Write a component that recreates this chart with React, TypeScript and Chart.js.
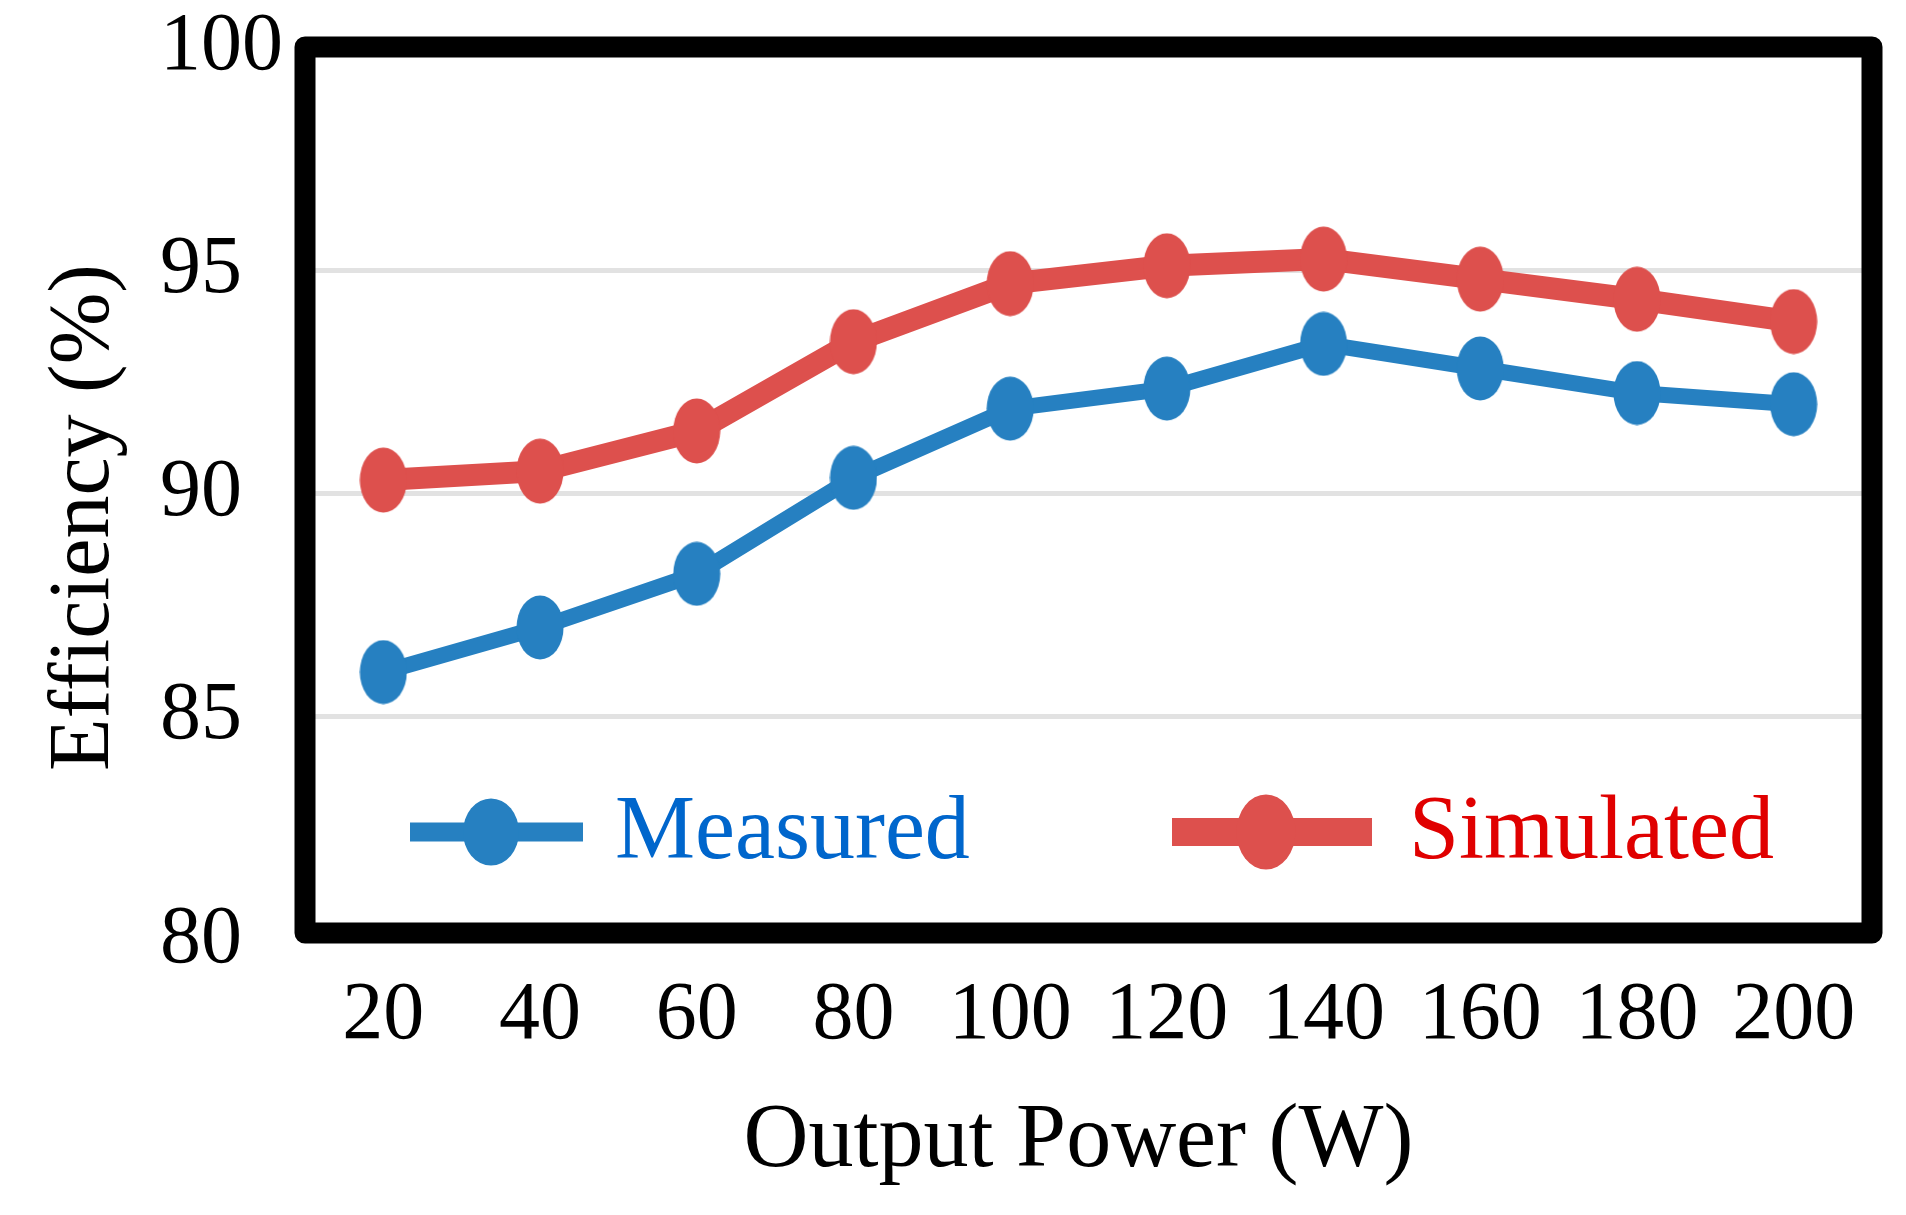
import { useEffect, useRef } from 'react';
import { Chart, registerables } from 'chart.js';

Chart.register(...registerables);

// chart data
const outputPower = ['20', '40', '60', '80', '100', '120', '140', '160', '180', '200'];
const measured = [86.0, 87.0, 88.2, 90.35, 91.9, 92.35, 93.35, 92.8, 92.25, 92.0];
const simulated = [90.3, 90.5, 91.4, 93.4, 94.7, 95.1, 95.25, 94.8, 94.35, 93.85];
const yMin = 80;
const yMax = 100;
const yStep = 5;

const BLUE = '#2680C1';
const RED = '#DD504D';
const FONT = "'Liberation Serif', 'Times New Roman', serif";

// oval marker drawn on an offscreen canvas (the figure's points are taller than wide)
function ovalMarker(color: string, w: number, h: number) {
  const c = document.createElement('canvas');
  c.width = w;
  c.height = h;
  const ctx = c.getContext('2d');
  if (ctx) {
    ctx.fillStyle = color;
    ctx.beginPath();
    ctx.ellipse(w / 2, h / 2, w / 2 - 0.5, h / 2 - 0.5, 0, 0, Math.PI * 2);
    ctx.fill();
  }
  return c;
}

// thick frame, axis titles and the legend inside the plot
const framePlugin = {
  id: 'frame',
  afterDraw(chart: any) {
    const { ctx, chartArea } = chart;
    const { left, top, right, bottom } = chartArea;
    ctx.save();

    // legend
    const items = [
      { ds: 0, x0: left + 105, x1: left + 278, mx: left + 186, mw: 56, mh: 67, lw: 19, tx: left + 310, text: '#0066CC' },
      { ds: 1, x0: left + 867, x1: left + 1067, mx: left + 961, mw: 59, mh: 75, lw: 28, tx: left + 1104, text: '#E00000' },
    ];
    const ly = bottom - 108;
    items.forEach((it) => {
      const ds = chart.data.datasets[it.ds];
      ctx.strokeStyle = ds.borderColor;
      ctx.lineWidth = it.lw;
      ctx.lineCap = 'butt';
      ctx.beginPath();
      ctx.moveTo(it.x0, ly);
      ctx.lineTo(it.x1, ly);
      ctx.stroke();
      ctx.fillStyle = ds.borderColor;
      ctx.beginPath();
      ctx.ellipse(it.mx, ly, it.mw / 2, it.mh / 2, 0, 0, Math.PI * 2);
      ctx.fill();
      ctx.fillStyle = it.text;
      ctx.font = `90px ${FONT}`;
      ctx.textAlign = 'left';
      ctx.textBaseline = 'alphabetic';
      ctx.fillText(ds.label, it.tx, ly + 26);
    });

    // frame
    ctx.strokeStyle = '#000';
    ctx.lineWidth = 21;
    ctx.lineJoin = 'round';
    ctx.strokeRect(left, top, right - left, bottom - 7 - top);

    // x axis title
    ctx.fillStyle = '#000';
    ctx.font = `90px ${FONT}`;
    ctx.textAlign = 'center';
    ctx.textBaseline = 'middle';
    ctx.fillText('Output Power (W)', (left + right) / 2 - 10, bottom + 202);

    // y axis title
    ctx.translate(108, (top + bottom) / 2 + 24);
    ctx.rotate(-Math.PI / 2);
    ctx.font = `86px ${FONT}`;
    ctx.textAlign = 'center';
    ctx.textBaseline = 'alphabetic';
    ctx.fillText('Efficiency (%)', 0, 0);
    ctx.restore();
  },
};

function EfficiencyChart() {
  const canvasRef = useRef<HTMLCanvasElement | null>(null);
  const chartRef = useRef<Chart | null>(null);

  useEffect(() => {
    document.body.style.margin = '0';
    document.body.style.overflow = 'hidden';

    if (chartRef.current) {
      chartRef.current.destroy();
    }
    if (!canvasRef.current) return;
    const ctx = canvasRef.current.getContext('2d');
    if (!ctx) return;

    chartRef.current = new Chart(ctx, {
      type: 'line',
      data: {
        labels: outputPower,
        datasets: [
          {
            label: 'Measured',
            data: measured,
            borderColor: BLUE,
            backgroundColor: BLUE,
            borderWidth: 16,
            pointStyle: ovalMarker(BLUE, 48, 65) as any,
            tension: 0,
          },
          {
            label: 'Simulated',
            data: simulated,
            borderColor: RED,
            backgroundColor: RED,
            borderWidth: 22,
            pointStyle: ovalMarker(RED, 48, 66) as any,
            tension: 0,
          },
        ],
      },
      options: {
        animation: false,
        responsive: true,
        maintainAspectRatio: false,
        layout: {
          padding: { top: 47, right: 34, left: 160, bottom: 0 },
        },
        plugins: {
          legend: { display: false },
          tooltip: { enabled: false },
        },
        scales: {
          x: {
            offset: true,
            grid: { display: false, drawTicks: false },
            border: { display: false },
            ticks: {
              color: '#000',
              padding: 27,
              font: { family: FONT, size: 82 },
            },
            afterFit(scale: any) {
              scale.height = 275;
            },
          },
          y: {
            min: yMin,
            max: yMax,
            grid: {
              drawTicks: false,
              lineWidth: 5,
              color: (c: any) =>
                c.tick && c.tick.value > yMin && c.tick.value < yMax ? '#E2E2E2' : 'rgba(0,0,0,0)',
            },
            border: { display: false },
            ticks: {
              stepSize: yStep,
              color: '#000',
              crossAlign: 'far',
              font: { family: FONT, size: 82, lineHeight: 1 },
            },
            afterFit(scale: any) {
              scale.width = 145;
              scale.paddingTop = 0;
              scale.paddingBottom = 0;
            },
          },
        },
      },
      plugins: [framePlugin],
    });

    return () => {
      if (chartRef.current) {
        chartRef.current.destroy();
        chartRef.current = null;
      }
    };
  }, []);

  return (
    <div style={{ width: 1906, height: 1215, position: 'relative', background: '#fff' }}>
      <canvas ref={canvasRef}></canvas>
    </div>
  );
}

export default function App() {
  return <EfficiencyChart />;
}
